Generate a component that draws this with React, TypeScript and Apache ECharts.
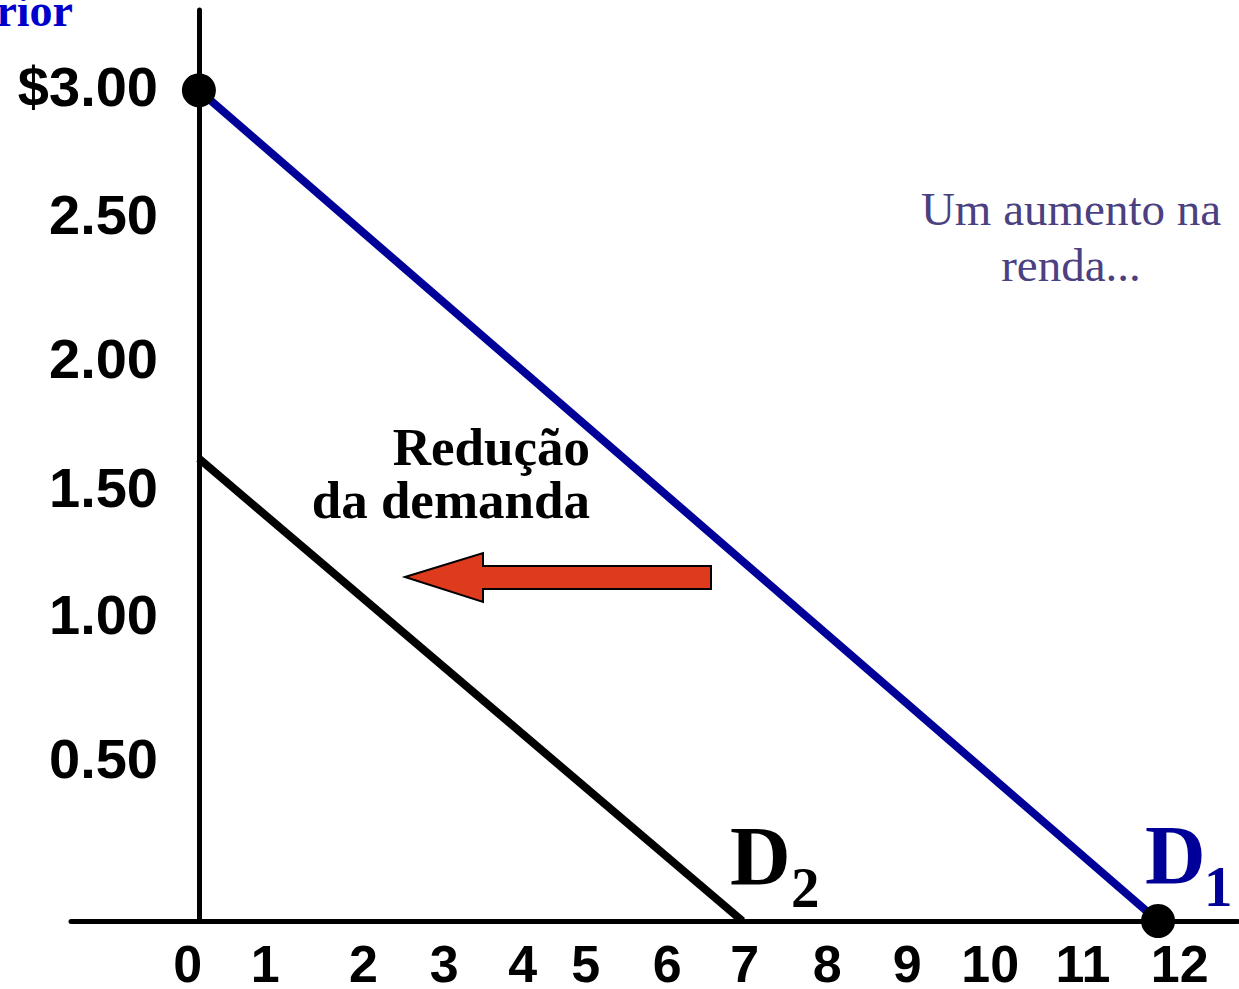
import React, { useEffect, useRef } from "react";
import * as echarts from "echarts";

// Tick labels and where they sit on each axis (data units)
const xTickLabels = ["0", "1", "2", "3", "4", "5", "6", "7", "8", "9", "10", "11", "12"];
const xTickPos = [-0.14, 0.83, 2.06, 3.07, 4.05, 4.84, 5.86, 6.83, 7.86, 8.86, 9.9, 11.06, 12.27];
const yTickLabels = ["$3.00", "2.50", "2.00", "1.50", "1.00", "0.50"];
const yTickPos = [3.014, 2.552, 2.032, 1.567, 1.108, 0.588];

// Demand curves (quantity, price)
const demandD1 = [
  [0, 3],
  [12, 0],
];
const demandD2 = [
  [0, 1.67],
  [6.8, 0],
];
const endpointDots = [
  [0, 3],
  [12, 0],
];

const nearestLabel = (v: number, pos: number[], labels: string[]) => {
  let best = 0;
  for (let i = 1; i < pos.length; i++) {
    if (Math.abs(pos[i] - v) < Math.abs(pos[best] - v)) best = i;
  }
  return labels[best];
};

const SANS = '"Liberation Sans", Arial, Helvetica, sans-serif';
const SERIF = '"Liberation Serif", "Times New Roman", Times, serif';

export default function App() {
  const ref = useRef<HTMLDivElement>(null);

  useEffect(() => {
    if (!ref.current) return;
    const chart = echarts.init(ref.current, undefined, { renderer: "svg" });
    chart.setOption({
      animation: false,
      backgroundColor: "#ffffff",
      grid: {
        left: 71,
        top: 10,
        width: 1167,
        height: 911,
        containLabel: false,
        outerBoundsMode: "none",
      },
      xAxis: {
        type: "value",
        min: -1.6,
        max: 13,
        splitLine: { show: false },
        axisTick: { show: false },
        axisLine: { show: true, onZero: true, lineStyle: { color: "#000", width: 5 } },
        axisLabel: {
          customValues: xTickPos,
          formatter: (v: number) => nearestLabel(v, xTickPos, xTickLabels),
          fontFamily: SANS,
          fontWeight: "bold",
          fontSize: 52,
          color: "#000",
          margin: 17,
          showMinLabel: true,
          showMaxLabel: true,
          hideOverlap: false,
        },
      },
      yAxis: {
        type: "value",
        min: 0,
        max: 3.29,
        splitLine: { show: false },
        axisTick: { show: false },
        axisLine: { show: true, onZero: true, lineStyle: { color: "#000", width: 5 } },
        axisLabel: {
          customValues: yTickPos,
          formatter: (v: number) => nearestLabel(v, yTickPos, yTickLabels),
          fontFamily: SANS,
          fontWeight: "bold",
          fontSize: 56,
          color: "#000",
          margin: -87,
          hideOverlap: false,
        },
      },
      series: [
        {
          name: "D1",
          type: "line",
          data: demandD1,
          symbol: "none",
          lineStyle: { color: "#000099", width: 8 },
          z: 3,
        },
        {
          name: "D2",
          type: "line",
          data: demandD2,
          symbol: "none",
          lineStyle: { color: "#000000", width: 8 },
          z: 3,
        },
        {
          name: "pontos",
          type: "scatter",
          data: endpointDots,
          symbol: "circle",
          symbolSize: 34,
          itemStyle: { color: "#000", opacity: 1 },
          z: 5,
        },
      ],
      graphic: [
        {
          type: "text",
          x: 73,
          y: 10,
          style: {
            text: "Preço de um bem inferior",
            align: "right",
            verticalAlign: "middle",
            fill: "#0000cc",
            fontFamily: SERIF,
            fontWeight: "bold",
            fontSize: 46,
          },
        },
        {
          type: "text",
          x: 1071,
          y: 209,
          style: {
            text: "Um aumento na",
            align: "center",
            verticalAlign: "middle",
            fill: "#4b4080",
            fontFamily: SERIF,
            fontSize: 47,
          },
        },
        {
          type: "text",
          x: 1071,
          y: 265,
          style: {
            text: "renda...",
            align: "center",
            verticalAlign: "middle",
            fill: "#4b4080",
            fontFamily: SERIF,
            fontSize: 47,
          },
        },
        {
          type: "text",
          x: 590,
          y: 447,
          style: {
            text: "Redução",
            align: "right",
            verticalAlign: "middle",
            fill: "#000",
            fontFamily: SERIF,
            fontWeight: "bold",
            fontSize: 53,
          },
        },
        {
          type: "text",
          x: 590,
          y: 500,
          style: {
            text: "da demanda",
            align: "right",
            verticalAlign: "middle",
            fill: "#000",
            fontFamily: SERIF,
            fontWeight: "bold",
            fontSize: 53,
          },
        },
        {
          type: "polygon",
          shape: {
            points: [
              [405, 577],
              [483, 553],
              [483, 566],
              [711, 566],
              [711, 589],
              [483, 589],
              [483, 602],
            ],
          },
          style: { fill: "#dd3a1e", stroke: "#000", lineWidth: 2 },
          z: 10,
        },
        {
          type: "text",
          x: 730,
          y: 856,
          style: {
            text: "D",
            align: "left",
            verticalAlign: "middle",
            fill: "#000",
            fontFamily: SERIF,
            fontWeight: "bold",
            fontSize: 84,
          },
        },
        {
          type: "text",
          x: 791,
          y: 887,
          style: {
            text: "2",
            align: "left",
            verticalAlign: "middle",
            fill: "#000",
            fontFamily: SERIF,
            fontWeight: "bold",
            fontSize: 57,
          },
        },
        {
          type: "text",
          x: 1145,
          y: 855,
          style: {
            text: "D",
            align: "left",
            verticalAlign: "middle",
            fill: "#000099",
            fontFamily: SERIF,
            fontWeight: "bold",
            fontSize: 84,
          },
        },
        {
          type: "text",
          x: 1204,
          y: 886,
          style: {
            text: "1",
            align: "left",
            verticalAlign: "middle",
            fill: "#000099",
            fontFamily: SERIF,
            fontWeight: "bold",
            fontSize: 57,
          },
        },
      ],
    });
    return () => chart.dispose();
  }, []);

  return (
    <div
      ref={ref}
      style={{ position: "fixed", left: 0, top: 0, width: 1239, height: 989, background: "#fff" }}
    />
  );
}
